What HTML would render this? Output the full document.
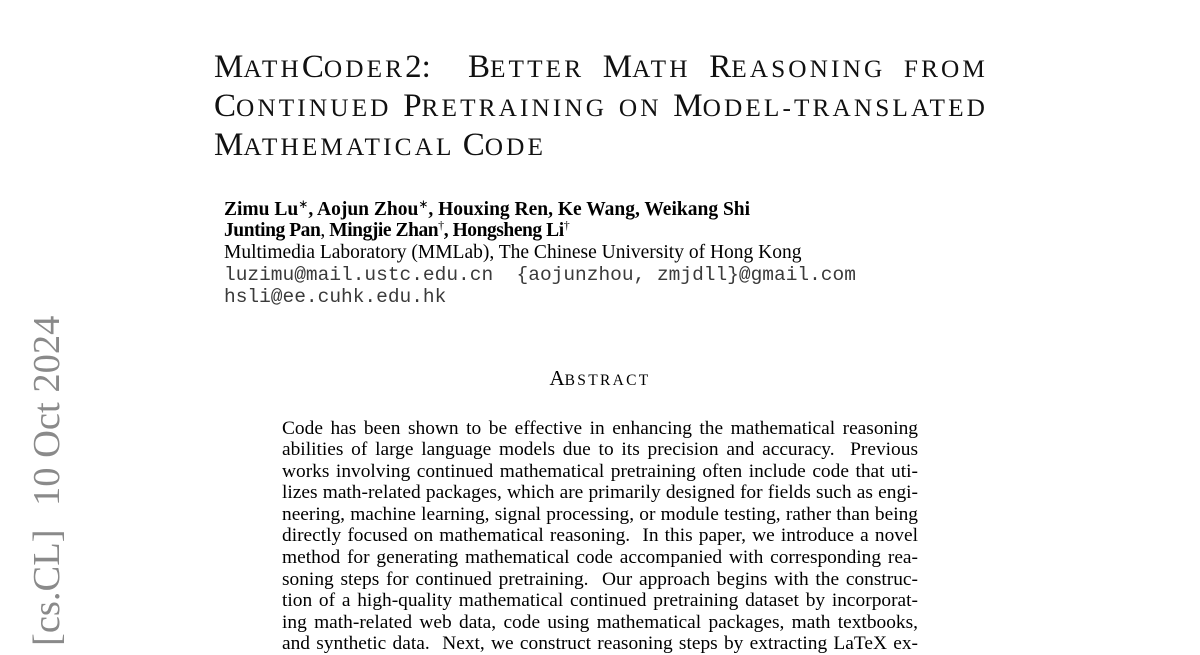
<!DOCTYPE html>
<html>
<head>
<meta charset="utf-8">
<style>
  html,body{margin:0;padding:0;}
  body{width:1200px;height:648px;overflow:hidden;background:#fff;position:relative;
       font-family:"Liberation Serif","Times New Roman",serif;color:#000;}
  .abs{position:absolute;white-space:nowrap;}
  .t{left:214px;width:774px;font-size:33px;line-height:40px;color:#111;}
  .j{text-align:justify;text-align-last:justify;white-space:normal;}
  .s{font-size:25.3px;letter-spacing:3.1px;}
  .au{left:224px;font-size:19.5px;line-height:21.6px;}
  .b{font-weight:bold;}
  .mono{font-family:"Liberation Mono","Courier New",monospace;color:#3a3a3a;}
  .sup{position:relative;top:-7px;font-size:12px;font-weight:normal;}
  .ab{position:absolute;left:282px;width:636px;font-size:19.4px;line-height:21.55px;
      text-align:justify;text-align-last:justify;white-space:normal;}
  .stamp{position:absolute;font-size:38.5px;line-height:38px;color:#8a8a8a;white-space:nowrap;
         transform-origin:0 0;transform:rotate(-90deg);}
</style>
</head>
<body>

<!-- Title -->
<div class="abs t j" style="top:46.8px;">M<span class="s">ATH</span>C<span class="s">ODER</span>2:&nbsp; B<span class="s">ETTER</span> M<span class="s">ATH</span> R<span class="s">EASONING</span> <span class="s">FROM</span></div>
<div class="abs t j" style="top:85.5px;">C<span class="s">ONTINUED</span> P<span class="s">RETRAINING</span> <span class="s">ON</span> M<span class="s">ODEL-TRANSLATED</span></div>
<div class="abs t" style="top:124.5px;">M<span class="s">ATHEMATICAL</span> C<span class="s">ODE</span></div>

<!-- Authors -->
<div class="abs au b" style="top:198.6px;">Zimu Lu<span class="sup">∗</span>, Aojun Zhou<span class="sup">∗</span>, Houxing Ren, Ke Wang, Weikang Shi</div>
<div class="abs au b" style="top:220.2px;letter-spacing:-0.45px;">Junting Pan<span style="font-weight:normal">,</span> Mingjie Zhan<span class="sup">†</span>, Hongsheng Li<span class="sup">†</span></div>
<div class="abs au" style="top:241.9px;">Multimedia Laboratory (MMLab), The Chinese University of Hong Kong</div>
<div class="abs au mono" style="top:265px;white-space:pre;">luzimu@mail.ustc.edu.cn  {aojunzhou, zmjdll}@gmail.com</div>
<div class="abs au mono" style="top:286.5px;">hsli@ee.cuhk.edu.hk</div>

<!-- Abstract heading -->
<div class="abs" style="left:282px;width:636px;top:366px;text-align:center;font-size:21px;line-height:24px;">A<span style="font-size:15.5px;letter-spacing:2.3px;">BSTRACT</span></div>

<!-- Abstract body -->
<div class="ab" style="top:417.7px;">Code has been shown to be effective in enhancing the mathematical reasoning</div>
<div class="ab" style="top:439.25px;">abilities of large language models due to its precision and accuracy.&nbsp; Previous</div>
<div class="ab" style="top:460.8px;">works involving continued mathematical pretraining often include code that uti-</div>
<div class="ab" style="top:482.35px;">lizes math-related packages, which are primarily designed for fields such as engi-</div>
<div class="ab" style="top:503.9px;">neering, machine learning, signal processing, or module testing, rather than being</div>
<div class="ab" style="top:525.45px;">directly focused on mathematical reasoning.&nbsp; In this paper, we introduce a novel</div>
<div class="ab" style="top:547px;">method for generating mathematical code accompanied with corresponding rea-</div>
<div class="ab" style="top:568.55px;">soning steps for continued pretraining.&nbsp; Our approach begins with the construc-</div>
<div class="ab" style="top:590.1px;">tion of a high-quality mathematical continued pretraining dataset by incorporat-</div>
<div class="ab" style="top:611.65px;">ing math-related web data, code using mathematical packages, math textbooks,</div>
<div class="ab" style="top:633.2px;">and synthetic data.&nbsp; Next, we construct reasoning steps by extracting LaTeX ex-</div>

<!-- arXiv stamp -->
<div class="stamp" style="left:27.8px;top:506px;">10 Oct 2024</div>
<div class="stamp" style="left:27.8px;top:646px;">[cs.CL]</div>

</body>
</html>
